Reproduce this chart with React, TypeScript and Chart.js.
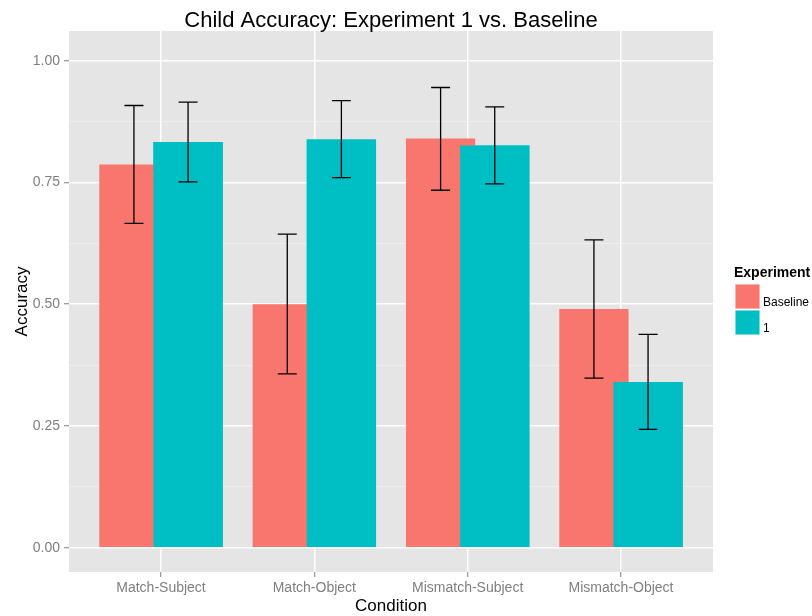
import { useEffect, useRef } from 'react';
import { Chart, registerables } from 'chart.js';

Chart.register(...registerables);

const categories = ['Match-Subject', 'Match-Object', 'Mismatch-Subject', 'Mismatch-Object'];
const seriesNames = ['Baseline', '1'];
const seriesColors = ['#F8766D', '#00BFC4'];

const baselineMean = [0.787, 0.5, 0.84, 0.49];
const baselineLower = [0.666, 0.357, 0.734, 0.348];
const baselineUpper = [0.908, 0.644, 0.945, 0.632];

const oneMean = [0.833, 0.838, 0.826, 0.34];
const oneLower = [0.751, 0.76, 0.747, 0.243];
const oneUpper = [0.915, 0.918, 0.905, 0.438];

const yMajorTicks = [0, 0.25, 0.5, 0.75, 1];
const yMinorTicks = [0.125, 0.375, 0.625, 0.875];

const chartTitle = 'Child Accuracy: Experiment 1 vs. Baseline';
const xTitle = 'Condition';
const yTitle = 'Accuracy';
const legendTitle = 'Experiment';

const FONT = '"Liberation Sans", Arial, Helvetica, sans-serif';

const lowers = [baselineLower, oneLower];
const uppers = [baselineUpper, oneUpper];

const isMajor = (v: number) => yMajorTicks.some((m) => Math.abs(m - v) < 1e-6);

const ggPlugin = {
  id: 'ggStyle',
  beforeDraw(chart: any) {
    const { ctx, chartArea: a } = chart;
    ctx.save();
    ctx.fillStyle = '#E5E5E5';
    ctx.fillRect(a.left, a.top, a.right - a.left, a.bottom - a.top);
    ctx.restore();
  },
  afterDatasetsDraw(chart: any) {
    const { ctx } = chart;
    // draw the second series again so it overlaps the first one (dodged overlap)
    const topMeta = chart.getDatasetMeta(1);
    ctx.save();
    topMeta.controller.draw();
    ctx.restore();

    const yScale = chart.scales.y;
    ctx.save();
    ctx.strokeStyle = '#000000';
    ctx.lineWidth = 1.3;
    const half = 9.5;
    for (let d = 0; d < 2; d++) {
      const meta = chart.getDatasetMeta(d);
      meta.data.forEach((bar: any, j: number) => {
        const x = bar.x;
        const yl = yScale.getPixelForValue(lowers[d][j]);
        const yu = yScale.getPixelForValue(uppers[d][j]);
        ctx.beginPath();
        ctx.moveTo(x, yl);
        ctx.lineTo(x, yu);
        ctx.moveTo(x - half, yu);
        ctx.lineTo(x + half, yu);
        ctx.moveTo(x - half, yl);
        ctx.lineTo(x + half, yl);
        ctx.stroke();
      });
    }
    ctx.restore();
  },
  afterDraw(chart: any) {
    const { ctx, chartArea: a } = chart;
    const cx = (a.left + a.right) / 2;
    const cy = (a.top + a.bottom) / 2;
    ctx.save();
    ctx.fillStyle = '#000000';
    ctx.textAlign = 'center';
    ctx.textBaseline = 'alphabetic';
    ctx.font = `22px ${FONT}`;
    ctx.fillText(chartTitle, cx, 27);
    ctx.font = `17px ${FONT}`;
    ctx.fillText(xTitle, cx, 611);
    ctx.save();
    ctx.translate(27, cy);
    ctx.rotate(-Math.PI / 2);
    ctx.fillText(yTitle, 0, 0);
    ctx.restore();

    // legend
    const lx = a.right + 22;
    ctx.textAlign = 'left';
    ctx.font = `bold 14px ${FONT}`;
    ctx.fillText(legendTitle, lx - 1, 277);
    ctx.font = `12px ${FONT}`;
    ctx.textBaseline = 'middle';
    seriesNames.forEach((name, i) => {
      const top = 284 + i * 26;
      ctx.fillStyle = '#F2F2F2';
      ctx.fillRect(lx, top, 25, 25);
      ctx.fillStyle = seriesColors[i];
      ctx.fillRect(lx + 0.5, top + 0.5, 24, 24);
      ctx.fillStyle = '#000000';
      ctx.fillText(name, lx + 28, top + 19);
    });
    ctx.restore();
  },
};

export default function App() {
  const ref = useRef<HTMLCanvasElement | null>(null);

  useEffect(() => {
    if (!ref.current) return;
    const xs = categories.map((_, i) => i + 1);
    const chart = new Chart(ref.current, {
      type: 'bar',
      data: {
        datasets: [
          {
            label: seriesNames[0],
            data: xs.map((x, i) => ({ x, y: baselineMean[i] })),
            backgroundColor: seriesColors[0],
            borderWidth: 0,
          },
          {
            label: seriesNames[1],
            data: xs.map((x, i) => ({ x, y: oneMean[i] })),
            backgroundColor: seriesColors[1],
            borderWidth: 0,
          },
        ],
      },
      options: {
        animation: false,
        responsive: false,
        events: [],
        categoryPercentage: 0.706,
        barPercentage: 1.28,
        layout: { padding: { left: 0, right: 99, top: 31, bottom: 0 } },
        plugins: {
          legend: { display: false },
          title: { display: false },
          tooltip: { enabled: false },
        },
        scales: {
          x: {
            type: 'linear',
            min: 0.4,
            max: 4.6,
            offset: false,
            afterBuildTicks: (s: any) => {
              s.ticks = xs.map((v) => ({ value: v }));
            },
            afterFit: (s: any) => {
              s.height = 44;
            },
            ticks: {
              autoSkip: false,
              maxRotation: 0,
              padding: 3,
              color: '#7F7F7F',
              font: { family: FONT, size: 14 },
              callback: (v: any) => categories[Math.round(Number(v)) - 1] ?? '',
            },
            grid: {
              offset: false,
              color: '#FFFFFF',
              lineWidth: 1.5,
              tickColor: '#7F7F7F',
              tickWidth: 1,
              tickLength: 5,
            },
            border: { display: false },
          },
          y: {
            type: 'linear',
            min: -0.05,
            max: 1.061,
            afterBuildTicks: (s: any) => {
              s.ticks = [...yMajorTicks, ...yMinorTicks]
                .sort((p, q) => p - q)
                .map((v) => ({ value: v }));
            },
            afterFit: (s: any) => {
              s.width = 69;
            },
            ticks: {
              autoSkip: false,
              padding: 4,
              color: '#7F7F7F',
              font: { family: FONT, size: 14 },
              callback: (v: any) => (isMajor(Number(v)) ? Number(v).toFixed(2) : ''),
            },
            grid: {
              color: (c: any) => (c.tick && isMajor(c.tick.value) ? '#FFFFFF' : '#F2F2F2'),
              lineWidth: (c: any) => (c.tick && isMajor(c.tick.value) ? 1.5 : 0.7),
              tickColor: (c: any) => (c.tick && isMajor(c.tick.value) ? '#7F7F7F' : 'rgba(0,0,0,0)'),
              tickWidth: 1,
              tickLength: 5,
            },
            border: { display: false },
          },
        },
      },
      plugins: [ggPlugin],
    } as any);
    return () => chart.destroy();
  }, []);

  return (
    <div style={{ position: 'fixed', left: 0, top: 0, width: 812, height: 616, background: '#ffffff' }}>
      <canvas ref={ref} width={812} height={616} style={{ display: 'block' }} />
    </div>
  );
}
